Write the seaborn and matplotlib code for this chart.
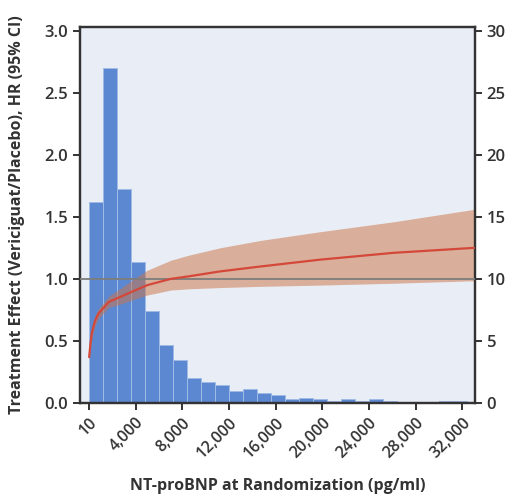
import pandas as pd
import matplotlib
matplotlib.use('Agg')
import matplotlib.pyplot as plt
import seaborn as sns

# histogram: % of patients per 1,200 pg/ml bin (right axis)
bin_width = 1200
bin_pct = [16.2, 27.0, 17.2, 11.4, 7.4, 4.7, 3.5, 2.0, 1.7, 1.45, 0.95, 1.1, 0.85, 0.65,
           0.3, 0.4, 0.3, 0.2, 0.3, 0.15, 0.3, 0.15, 0.1, 0.1, 0.1, 0.2, 0.2]

# treatment effect curve (left axis)
ntprobnp = [10, 120, 250, 500, 800, 1700, 2800, 4000, 5000, 7000, 8500, 11200, 14700, 19800, 26100, 33000]
hr_mean = [0.37, 0.48, 0.57, 0.66, 0.72, 0.815, 0.86, 0.91, 0.95, 1.0, 1.02, 1.06, 1.10, 1.155, 1.21, 1.25]
hr_low = [0.34, 0.44, 0.53, 0.62, 0.68, 0.77, 0.80, 0.84, 0.87, 0.91, 0.92, 0.93, 0.94, 0.95, 0.965, 0.985]
hr_high = [0.40, 0.52, 0.61, 0.70, 0.76, 0.86, 0.93, 1.01, 1.07, 1.15, 1.19, 1.25, 1.31, 1.38, 1.46, 1.56]

xticks = [10, 4000, 8000, 12000, 16000, 20000, 24000, 28000, 32000]
xtick_labels = ['10', '4,000', '8,000', '12,000', '16,000', '20,000', '24,000', '28,000', '32,000']

sns.set_style('ticks')
plt.rcParams['font.family'] = ['Open Sans', 'DejaVu Sans']

txt = '#333333'
bg = '#e9eef6'

fig = plt.figure(figsize=(5.1, 4.97), dpi=100)
ax = fig.add_axes([0.157, 0.189, 0.774, 0.757])
ax2 = ax.twinx()
ax.set_zorder(ax2.get_zorder() + 1)
ax.patch.set_visible(False)
ax2.patch.set_visible(True)
ax2.patch.set_facecolor(bg)

edges = [i * bin_width for i in range(len(bin_pct) + 1)]
centers = [e + bin_width / 2 for e in edges[:-1]]
hist = pd.DataFrame({'bnp': centers, 'pct': bin_pct})
sns.histplot(data=hist, x='bnp', weights='pct', bins=edges, ax=ax2,
             color='#5c88d2', alpha=1, edgecolor='#9fbbe6', linewidth=0.7)

curve = pd.DataFrame({'bnp': ntprobnp, 'hr': hr_mean})
ax.fill_between(ntprobnp, hr_low, hr_high, color='#cc7448', alpha=0.52, lw=0, zorder=2)
ax.axhline(1.0, color='#7d7d7d', lw=1.3, zorder=3)
sns.lineplot(data=curve, x='bnp', y='hr', ax=ax, color='#d4483a', lw=1.6, zorder=4)

ax.set_xlim(-770, 33060)
ax.set_ylim(0, 3.03)
ax2.set_ylim(0, 30.3)
ax.set_yticks([0, 0.5, 1.0, 1.5, 2.0, 2.5, 3.0])
ax.set_yticklabels(['0.0', '0.5', '1.0', '1.5', '2.0', '2.5', '3.0'])
ax2.set_yticks([0, 5, 10, 15, 20, 25, 30])
ax.set_xticks(xticks)
ax.set_xticklabels(xtick_labels, rotation=45, ha='right', rotation_mode='anchor')

for a in (ax, ax2):
    for s in a.spines.values():
        s.set_color(txt)
        s.set_linewidth(1.6)
    a.tick_params(colors=txt, labelsize=12, width=1.4, length=5)
    for lab in a.get_xticklabels() + a.get_yticklabels():
        lab.set_fontweight('semibold')
ax.tick_params(axis='x', labelsize=11.5)
ax2.set_ylabel('')
ax.set_xlabel('NT-proBNP at Randomization (pg/ml)', fontsize=11.5, fontweight='bold', color=txt, labelpad=12)
ax.set_ylabel('Treatment Effect (Vericiguat/Placebo), HR (95% CI)', fontsize=11.5,
              fontweight='bold', color=txt, labelpad=14)

fig.savefig('out.png', dpi=100, facecolor='white')
